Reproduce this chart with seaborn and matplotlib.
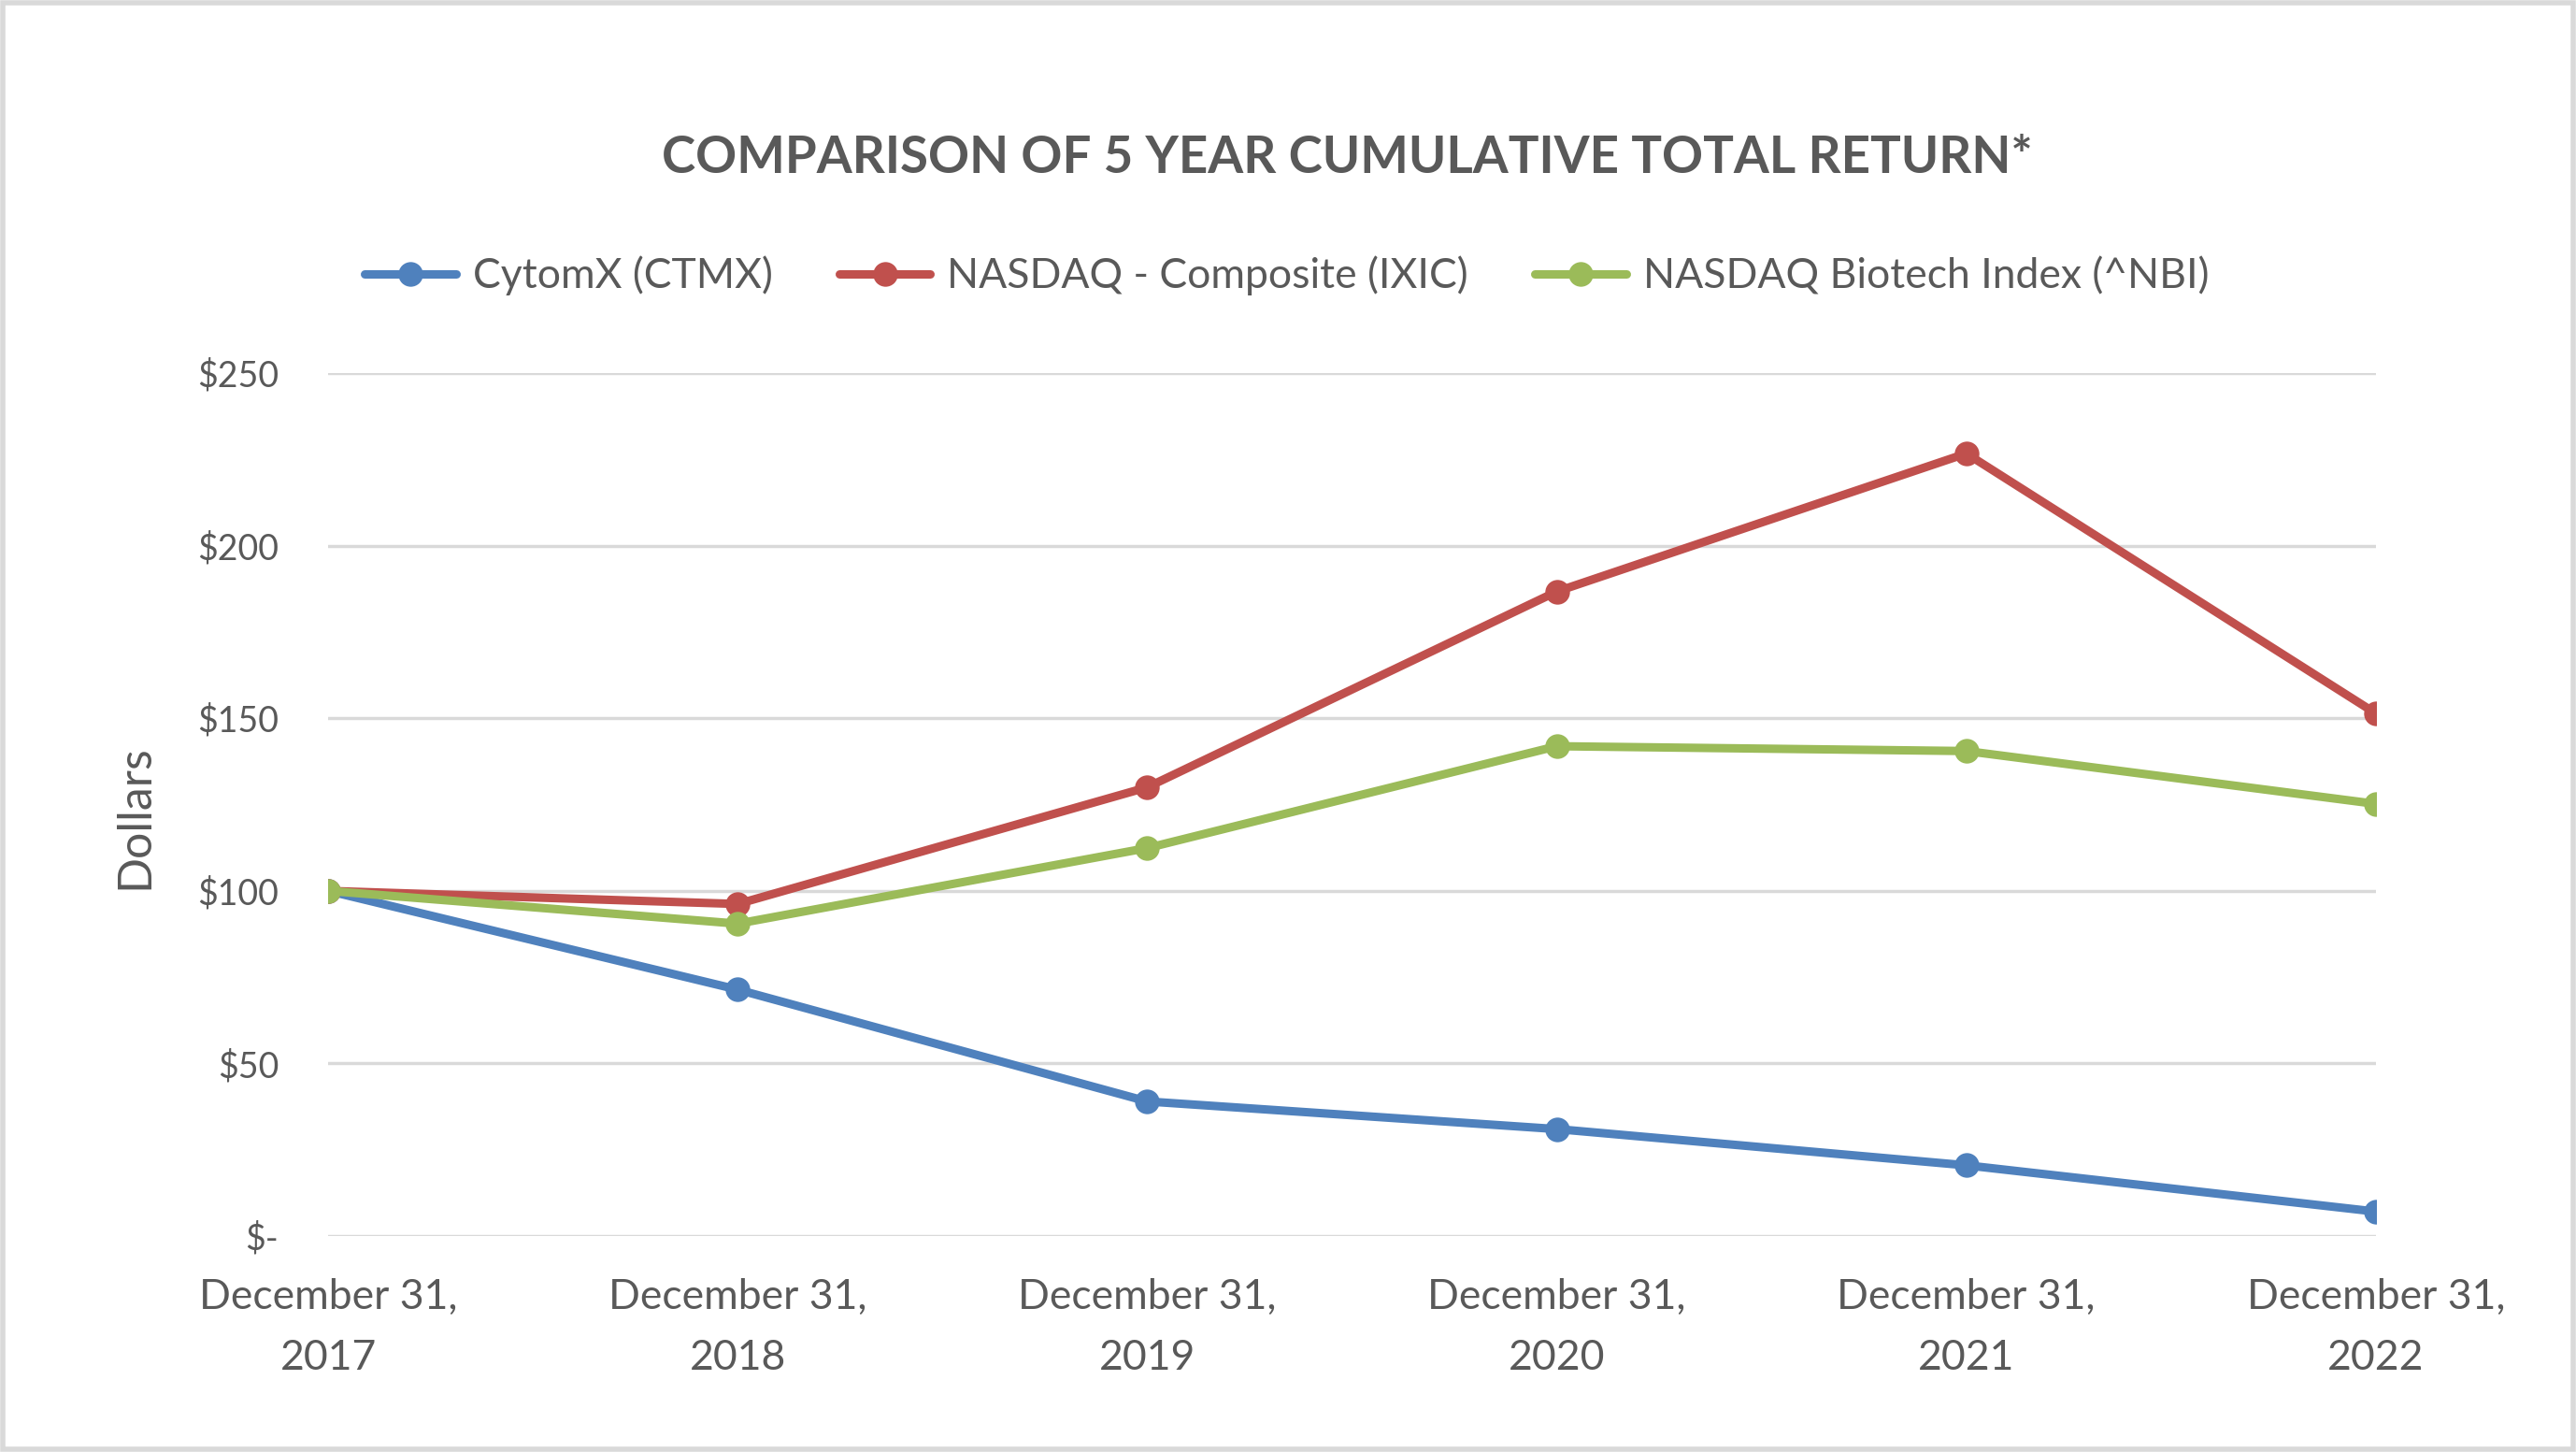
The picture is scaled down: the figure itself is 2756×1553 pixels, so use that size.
import matplotlib
matplotlib.use('Agg')
import matplotlib.pyplot as plt
from matplotlib.patches import Rectangle
import seaborn as sns
import pandas as pd

# Chart data
years = [2017, 2018, 2019, 2020, 2021, 2022]
tick_labels = [f'December 31,\n{y}' for y in years]
cytomx = [100, 71.4, 39.0, 31.0, 20.5, 7.1]
nasdaq = [100, 96.2, 130.0, 186.7, 226.7, 151.4]
nbi = [100, 90.5, 112.4, 141.9, 140.5, 125.2]
series_names = ['CytomX (CTMX)', 'NASDAQ - Composite (IXIC)', 'NASDAQ Biotech Index (^NBI)']
y_ticks = [0, 50, 100, 150, 200, 250]
y_tick_labels = ['$-', '$50', '$100', '$150', '$200', '$250']

colors = ['#4F81BD', '#C0504D', '#9BBB59']
text_color = '#595959'

sns.set_style('white')
plt.rcParams['font.family'] = ['Lato', 'DejaVu Sans']

# long-form table for seaborn
df = pd.DataFrame({
    'year': years * 3,
    'value': cytomx + nasdaq + nbi,
    'series': [series_names[0]] * 6 + [series_names[1]] * 6 + [series_names[2]] * 6,
})

fig = plt.figure(figsize=(27.56, 15.53), dpi=100)
ax = fig.add_axes([0.1274, 0.1487, 0.7949, 0.5944])

sns.lineplot(data=df, x='year', y='value', hue='series', palette=colors,
             marker='o', markersize=19, markeredgewidth=0, linewidth=6.5,
             ax=ax, legend=False, zorder=3)

ax.set_xlim(years[0], years[-1])
ax.set_ylim(0, 250)
ax.set_yticks(y_ticks)
ax.set_yticklabels(y_tick_labels)
ax.set_xticks(years)
ax.set_xticklabels(tick_labels, linespacing=1.75)
ax.tick_params(axis='both', length=0, colors=text_color)
ax.tick_params(axis='y', labelsize=27, pad=38)
ax.tick_params(axis='x', labelsize=32, pad=32)
ax.yaxis.grid(True, color='#D9D9D9', linewidth=2.5)
ax.set_axisbelow(True)
for s in ax.spines.values():
    s.set_visible(False)
ax.set_xlabel('')
ax.set_ylabel('Dollars', fontsize=36, color=text_color)
ax.yaxis.set_label_coords(-0.084, 0.486)

fig.suptitle('COMPARISON OF 5 YEAR CUMULATIVE TOTAL RETURN*', x=0.523, y=0.907,
             fontsize=39.3, fontweight='bold', color=text_color)

# legend across the top
handles = [plt.Line2D([], [], color=c, marker='o', markersize=19, markeredgewidth=0,
                      linewidth=6.5) for c in colors]
fig.legend(handles, series_names, loc='center', bbox_to_anchor=(0.4995, 0.810), ncol=3,
           frameon=False, fontsize=32, labelcolor=text_color, handlelength=2.2,
           columnspacing=1.6, handletextpad=0.4)

# chart area border
fig.patches.append(Rectangle((0.001, 0.002), 0.998, 0.996, transform=fig.transFigure,
                             fill=False, edgecolor='#D9D9D9', linewidth=4))

fig.savefig('out.png', dpi=100)
